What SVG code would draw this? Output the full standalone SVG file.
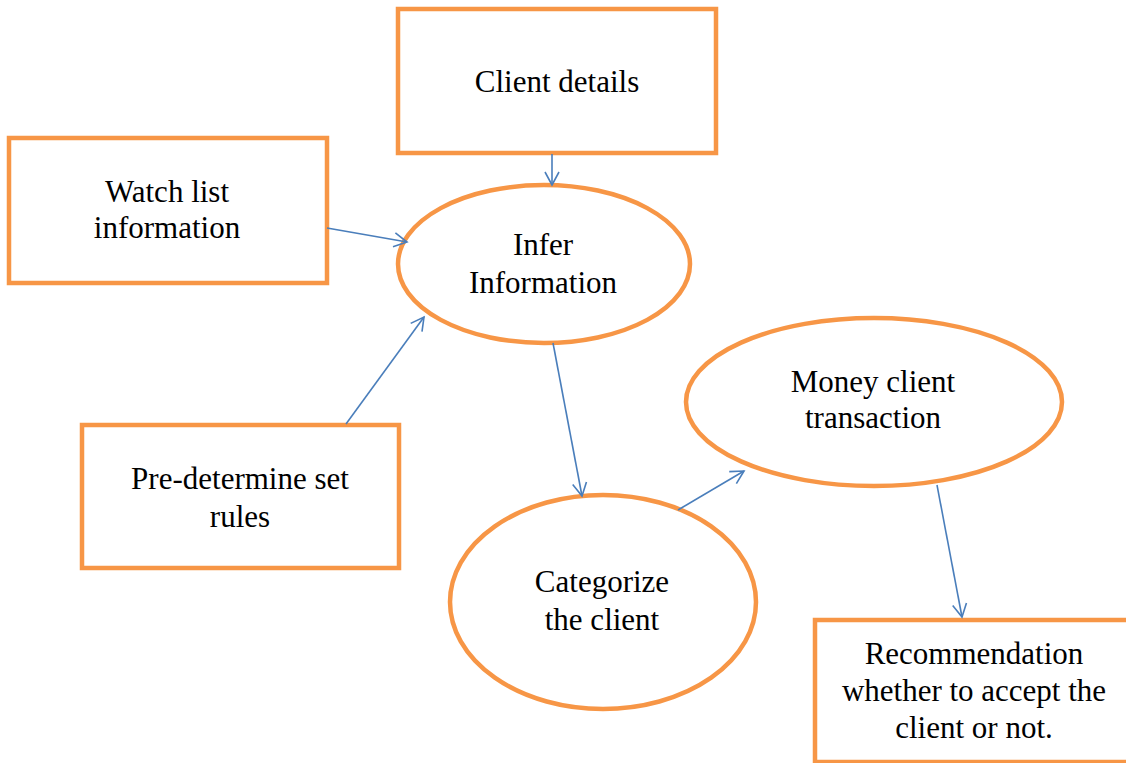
<svg xmlns="http://www.w3.org/2000/svg" width="1126" height="763" viewBox="0 0 1126 763">
<style>
.box{fill:#fff;stroke:#F79646;stroke-width:4.5}
.t{font-family:"Liberation Serif","Times New Roman",serif;font-size:31px;fill:#000;text-anchor:middle}
.c{fill:none;stroke:#4A7EBB;stroke-width:1.6}
</style>
<defs>
<marker id="ah" markerUnits="userSpaceOnUse" markerWidth="18" markerHeight="18" refX="14" refY="8" orient="auto">
<path d="M1,1 L14,8 L1,15" fill="none" stroke="#4A7EBB" stroke-width="1.6"/>
</marker>
</defs>
<rect width="1126" height="763" fill="#fff"/>
<g id="client-details">
<rect class="box" x="398" y="9" width="318" height="144"/>
<text class="t" x="557" y="92">Client details</text>
</g>
<g id="watch-list">
<rect class="box" x="9" y="138" width="318" height="145"/>
<text class="t" x="167" y="202">Watch list</text>
<text class="t" x="167" y="238">information</text>
</g>
<g id="predetermine">
<rect class="box" x="82" y="425" width="317" height="143"/>
<text class="t" x="240" y="489">Pre-determine set</text>
<text class="t" x="240" y="527">rules</text>
</g>
<g id="infer">
<ellipse class="box" cx="544" cy="264" rx="146" ry="79"/>
<text class="t" x="543" y="255">Infer</text>
<text class="t" x="543" y="293">Information</text>
</g>
<g id="categorize">
<ellipse class="box" cx="603" cy="602" rx="153" ry="107"/>
<text class="t" x="602" y="592">Categorize</text>
<text class="t" x="602" y="630">the client</text>
</g>
<g id="money">
<ellipse class="box" cx="874" cy="402" rx="188" ry="84"/>
<text class="t" x="873" y="392">Money client</text>
<text class="t" x="873" y="428">transaction</text>
</g>
<g id="recommendation">
<rect class="box" x="815" y="620" width="330" height="142"/>
<text class="t" x="974" y="664">Recommendation</text>
<text class="t" x="974" y="701">whether to accept the</text>
<text class="t" x="974" y="738">client or not.</text>
</g>
<g id="connectors">
<line class="c" x1="552" y1="154" x2="552" y2="185" marker-end="url(#ah)"/>
<line class="c" x1="327" y1="228" x2="407" y2="242" marker-end="url(#ah)"/>
<line class="c" x1="346" y1="424" x2="424" y2="317" marker-end="url(#ah)"/>
<line class="c" x1="553" y1="343" x2="582" y2="496" marker-end="url(#ah)"/>
<line class="c" x1="678" y1="510" x2="744" y2="471" marker-end="url(#ah)"/>
<line class="c" x1="937" y1="485" x2="962" y2="617" marker-end="url(#ah)"/>
</g>
</svg>
